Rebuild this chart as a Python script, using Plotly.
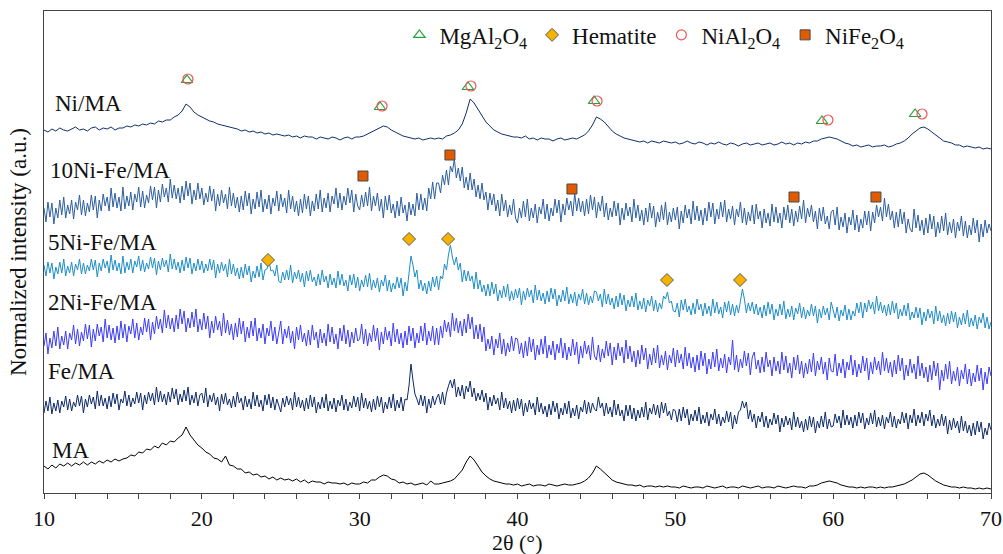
import plotly.graph_objects as go

# ---------------- data ----------------
TWO_THETA_MIN = 10.0
TWO_THETA_MAX = 70.0

# stacked, normalized intensity (a.u.); evenly sampled from 10 to 70 deg
# Ni/MA and MA every 0.25 deg, the noisy Fe-containing samples every 0.125 deg
ni_ma = [
    363,361,364,362,365,363,362,364,366,363,364,362,365,366,363,365,364,366,363,365,
    365,367,366,368,367,369,368,370,369,372,371,373,373,376,378,382,389,386,381,378,
    376,374,372,371,369,368,367,366,365,364,362,363,361,362,360,361,359,360,358,359,
    358,357,358,356,357,355,357,356,356,354,356,355,354,356,355,353,355,356,354,356,
    356,357,359,361,363,365,367,366,363,361,359,357,356,355,354,355,353,354,355,354,
    355,354,357,358,360,363,369,380,394,390,384,377,371,367,363,361,359,358,357,356,
    356,355,357,354,355,353,355,354,354,352,354,355,353,354,355,354,356,358,362,368,
    376,374,371,366,362,359,357,355,354,353,352,351,352,350,352,351,350,352,351,350,
    351,349,350,352,350,349,351,350,348,350,349,351,349,348,350,349,347,349,350,348,
    349,350,348,349,350,348,349,351,349,350,348,350,349,351,350,352,352,354,355,356,
    355,354,352,350,349,347,348,346,347,348,346,347,347,348,346,347,349,350,352,355,
    359,362,365,366,364,361,358,355,352,351,350,348,348,346,347,346,345,346,344,345,
    344,
]

ni10_fe_ma = [
    285,271,291,276,290,269,285,275,293,278,296,275,288,279,293,274,291,283,298,278,
    293,277,290,281,298,283,297,275,293,282,299,287,296,282,305,286,300,285,296,282,
    306,284,297,287,301,283,299,291,306,286,302,285,298,290,307,293,306,285,303,291,
    309,296,305,291,314,295,308,294,305,290,307,293,312,297,310,289,303,293,310,294,
    305,288,300,291,307,292,304,282,299,287,303,290,299,284,306,287,300,285,296,281,
    297,283,302,287,300,279,294,284,301,286,303,281,294,284,298,279,295,287,302,282,
    299,286,295,280,303,284,297,281,292,277,294,280,299,284,297,277,292,282,299,284,
    303,281,295,285,300,281,297,289,305,285,300,283,297,288,305,290,303,281,299,287,
    283,298,286,301,287,306,282,297,287,300,282,294,275,297,283,298,280,289,275,292,
    277,296,280,288,272,291,278,289,277,300,283,299,283,295,282,305,294,311,294,310,
    310,300,318,308,323,308,327,321,334,315,325,312,326,305,316,303,320,303,314,296,
    308,294,310,293,301,283,300,288,299,282,293,277,299,282,293,276,288,278,294,275,
    270,285,275,292,276,294,272,285,275,289,270,286,279,294,274,289,272,285,277,294,
    280,293,271,289,278,295,283,292,277,300,282,295,281,292,277,294,279,298,283,296,
    275,291,282,297,276,290,273,285,276,292,277,290,268,285,273,290,277,286,271,294,
    275,288,272,283,268,285,271,290,275,287,266,281,271,288,273,291,268,281,271,285,
    273,286,264,282,270,288,275,284,269,292,273,287,272,283,268,285,272,291,276,290,
    269,284,274,291,276,293,271,284,274,287,268,284,276,291,270,285,268,281,272,288,
    269,289,274,282,265,284,270,280,267,289,271,286,270,280,265,286,273,288,270,284,
    267,282,271,287,274,293,270,285,276,288,271,282,264,285,272,286,269,277,264,281,
    283,268,286,263,276,266,280,260,276,268,283,263,278,261,274,265,282,268,282,262,
    281,270,288,276,286,272,295,276,289,273,282,265,281,266,284,269,281,260,274,264,
    261,284,265,278,262,273,258,275,260,279,264,277,256,271,260,277,262,280,258,271,
    260,274,255,271,262,277,257,272,255,268,258,275,260,273,251,269,256,273,260,269,
    262,
]

ni5_fe_ma = [
    228,217,231,220,230,214,226,219,231,220,234,217,227,220,231,217,229,223,234,219,
    230,219,228,222,234,223,233,216,230,222,234,225,232,220,238,223,233,222,230,219,
    237,220,231,223,234,220,232,226,237,222,233,221,230,224,236,225,235,218,232,223,
    235,226,233,221,239,224,234,223,231,220,233,222,236,225,235,219,230,222,234,223,
    232,220,229,222,234,223,233,215,229,220,231,222,229,216,234,219,229,217,225,214,
    226,215,229,218,227,211,222,215,227,216,230,213,223,224,233,222,223,217,228,212,
    210,221,213,223,213,228,210,221,214,223,211,220,206,222,212,223,211,216,207,219,
    208,223,211,217,205,219,208,215,205,222,208,219,207,213,202,218,208,219,205,216,
    202,213,206,218,206,220,203,213,205,215,201,213,207,218,202,213,201,210,204,216,
    205,215,197,211,202,222,237,228,216,223,204,213,202,210,199,212,202,216,206,217,
    203,217,214,229,223,238,248,236,228,236,223,230,211,223,212,222,212,217,204,221,
    204,213,201,208,197,209,197,211,199,209,192,203,195,207,196,209,192,202,193,204,
    195,205,188,202,193,205,196,203,190,208,193,203,192,200,189,202,191,205,194,204,
    187,198,191,203,192,206,189,199,190,201,187,199,193,204,189,200,188,197,190,202,
    201,192,199,186,204,189,199,188,195,184,197,186,200,188,198,182,193,186,197,186,
    200,183,192,184,195,181,193,187,197,182,193,181,190,184,197,194,201,190,192,182,
    181,190,176,193,183,194,181,187,178,190,179,194,183,189,177,190,179,187,177,194,
    180,191,179,186,175,191,181,192,178,189,177,188,180,192,204,194,180,190,182,191,
    179,189,178,186,175,188,177,191,179,189,173,184,177,189,178,192,174,184,176,187,
    173,185,179,190,175,186,174,183,177,189,177,187,170,184,175,187,178,185,173,191,
    183,175,186,172,183,177,188,173,184,173,182,177,190,180,191,175,190,181,193,184,
    191,179,197,182,191,180,188,177,189,178,192,180,190,174,184,177,188,177,190,173,
    181,175,186,175,185,168,181,172,184,175,182,169,187,172,182,170,178,167,180,169,
    182,171,181,165,176,168,180,169,183,166,175,167,178,164,176,170,180,165,176,164,
    171,
]

ni2_fe_ma = [
    147,160,139,155,145,162,147,166,144,157,148,162,144,160,153,168,149,164,147,161,
    152,169,154,168,146,164,152,169,157,166,151,174,155,168,153,165,150,167,153,172,
    155,169,151,167,159,174,155,170,153,166,158,175,161,174,153,171,159,177,164,174,
    160,183,165,178,164,175,161,178,164,184,169,182,161,175,165,181,166,184,161,174,
    163,180,164,177,155,172,160,177,163,172,157,180,160,173,158,169,153,170,156,175,
    159,172,151,166,155,172,157,175,152,165,155,169,149,165,157,172,152,166,149,162,
    172,149,164,155,167,150,162,144,166,153,168,151,160,147,163,148,168,153,161,145,
    164,150,160,147,169,151,166,149,159,144,165,152,168,149,163,146,161,150,165,152,
    154,169,149,164,147,160,151,168,152,165,143,161,149,166,153,162,147,170,151,164,
    149,160,145,162,148,167,152,165,145,160,150,167,152,170,148,162,152,167,148,165,
    148,167,155,173,161,171,156,180,162,175,160,172,157,174,160,179,164,176,154,168,
    154,169,151,166,142,154,144,157,138,154,145,160,139,154,137,150,141,157,142,155,
    154,139,150,135,152,137,156,141,154,133,148,138,154,139,157,135,148,138,152,133,
    149,140,155,135,150,133,146,137,154,138,151,129,147,135,152,139,148,133,156,137,
    133,148,131,144,135,152,137,150,128,146,133,150,137,146,130,153,134,147,131,142,
    126,143,129,148,133,145,124,139,128,145,130,148,125,138,128,142,123,138,130,145,
    126,143,130,139,124,146,127,140,125,136,121,138,123,142,127,140,119,134,124,141,
    126,144,122,135,125,139,120,136,128,153,123,138,121,134,125,142,127,140,118,136,
    141,124,133,120,136,121,141,126,133,117,136,122,132,119,141,123,137,120,130,115,
    136,123,138,119,132,115,130,119,134,121,140,117,132,123,136,119,131,113,135,122,
    121,139,117,130,120,134,115,131,123,138,118,133,116,129,120,137,122,135,113,131,
    119,136,123,132,118,141,122,135,120,131,116,133,119,138,122,135,113,128,117,134,
    120,129,114,137,117,130,115,126,111,128,113,132,117,130,103,123,112,129,114,132,
    109,122,112,126,107,123,114,129,109,124,107,120,111,128,112,125,103,121,109,126,
    117,
]

fe_ma = [
    80,92,82,96,79,90,82,93,80,92,86,97,83,94,82,91,86,98,87,97,
    80,94,86,98,89,96,84,102,87,98,87,95,84,97,86,100,89,99,83,94,
    90,102,87,98,86,95,89,101,90,100,83,98,89,101,92,100,88,106,91,102,
    91,99,88,101,91,105,94,104,88,99,91,103,92,106,88,98,90,101,87,98,
    100,90,105,86,98,91,100,88,96,82,99,89,100,88,94,85,97,86,101,90,
    95,83,97,86,94,84,101,87,98,86,93,82,98,88,99,85,96,83,94,86,
    81,95,86,97,88,95,83,101,86,96,85,93,82,95,84,98,86,96,80,91,
    84,96,85,99,82,92,84,95,81,93,87,98,83,94,82,91,85,97,86,96,
    82,100,85,95,84,92,81,94,83,97,86,96,80,91,84,96,85,99,82,93,
    85,96,82,94,93,107,129,113,99,94,88,98,87,97,80,94,85,97,88,95,
    99,89,101,88,100,107,113,105,114,96,106,97,108,94,107,101,112,96,105,92,
    100,93,103,91,100,83,96,87,98,89,95,83,101,85,95,84,92,80,93,82,
    95,84,94,77,90,81,93,84,90,78,96,81,90,79,87,76,89,78,92,81,
    90,74,85,78,90,79,92,75,85,77,88,74,86,81,93,79,91,80,90,84,
    82,96,85,90,77,90,79,86,76,93,78,89,77,83,72,88,77,88,74,85,
    72,83,75,86,76,91,73,85,79,89,78,88,75,91,80,90,77,82,73,84,
    82,71,84,72,86,75,84,68,79,72,83,72,86,69,78,70,81,67,79,73,
    84,69,79,67,76,70,82,71,81,64,78,69,81,83,92,85,91,74,83,71,
    79,65,77,71,81,66,77,65,74,68,80,69,78,61,75,66,77,68,75,63,
    81,66,76,65,72,61,74,63,77,66,76,60,72,65,77,66,81,64,74,66,
    67,79,70,77,65,83,68,78,68,76,65,78,67,81,70,80,64,75,68,80,
    69,83,66,76,67,78,64,76,70,81,66,77,65,74,69,81,70,80,64,78,
    70,84,67,78,70,81,67,79,72,83,67,78,65,74,67,79,67,77,59,73,
    63,75,65,72,60,77,62,72,60,68,57,70,58,72,61,71,54,65,58,70,
    63,
]

ma = [
    27,24,28,25,29,27,30,27,30,28,31,28,31,29,32,30,33,31,34,32,
    34,35,38,37,41,40,44,43,47,45,50,48,52,51,55,58,66,58,53,48,
    45,41,39,35,34,31,37,28,27,24,24,20,21,18,19,16,17,14,16,13,
    15,13,14,12,14,11,13,10,12,11,11,9,11,10,10,9,10,8,10,9,
    9,11,10,13,13,16,18,17,14,13,10,11,9,10,8,9,10,8,12,9,
    9,10,11,12,14,18,23,31,37,33,27,21,17,14,12,11,10,9,9,8,
    9,7,8,9,7,8,8,7,9,8,7,8,9,8,8,9,10,12,15,20,
    27,24,20,16,13,11,10,9,8,8,7,8,6,7,7,6,7,6,7,6,
    6,5,7,6,5,6,6,5,7,6,5,6,7,5,6,6,5,7,6,5,
    6,7,5,6,6,5,7,6,5,6,7,6,6,5,7,7,8,10,11,12,
    11,10,8,7,6,6,5,6,5,6,6,5,6,5,6,6,7,8,9,11,
    13,16,19,20,18,15,12,10,8,7,6,6,5,6,5,5,4,5,4,5,
    4,
]

sample_names = ["Ni/MA", "10Ni-Fe/MA", "5Ni-Fe/MA", "2Ni-Fe/MA", "Fe/MA", "MA"]
sample_series = [ni_ma, ni10_fe_ma, ni5_fe_ma, ni2_fe_ma, fe_ma, ma]
sample_colors = ["#102e6c", "#2c5e9e", "#1f8dc6", "#3c3cf6", "#0d2a68", "#000000"]
label_y = [390, 323, 251, 191, 122, 43]

# phase reflections (2theta, marker height)
mgal2o4_x = [19.06, 31.29, 36.86, 44.85, 59.29, 65.19]
mgal2o4_y = [413, 386, 406, 392, 372, 379]
hematite_x = [24.19, 33.13, 35.60, 49.47, 54.10]
hematite_y = [233, 254, 254, 213, 213]
nial2o4_x = [19.12, 31.42, 37.05, 45.04, 59.67, 65.63]
nial2o4_y = [414, 387, 407, 392, 373, 379]
nife2o4_x = [30.21, 35.72, 43.45, 57.52, 62.71]
nife2o4_y = [317, 338, 304, 296, 296]

FONT = "Liberation Serif"
FS = 23

fig = go.Figure()

for name, vals, col in zip(sample_names, sample_series, sample_colors):
    n = len(vals)
    xs = [TWO_THETA_MIN + i * (TWO_THETA_MAX - TWO_THETA_MIN) / (n - 1) for i in range(n)]
    fig.add_trace(go.Scatter(x=xs, y=vals, mode="lines", name=name,
                             line=dict(color=col, width=1), showlegend=False))

fig.add_trace(go.Scatter(x=mgal2o4_x, y=mgal2o4_y, mode="markers",
                         name="MgAl<sub>2</sub>O<sub>4</sub>",
                         marker=dict(symbol="triangle-up-open", size=10, color="#22a23a",
                                     line=dict(width=1.2))))
fig.add_trace(go.Scatter(x=hematite_x, y=hematite_y, mode="markers", name="Hematite",
                         marker=dict(symbol="diamond", size=10, color="#f5b300",
                                     line=dict(color="#5a5a5a", width=1))))
fig.add_trace(go.Scatter(x=nial2o4_x, y=nial2o4_y, mode="markers",
                         name="NiAl<sub>2</sub>O<sub>4</sub>",
                         marker=dict(symbol="circle-open", size=10, color="#f05454",
                                     line=dict(width=1.2))))
fig.add_trace(go.Scatter(x=nife2o4_x, y=nife2o4_y, mode="markers",
                         name="NiFe<sub>2</sub>O<sub>4</sub>",
                         marker=dict(symbol="square", size=10, color="#e05a00",
                                     line=dict(color="#4a4a4a", width=1))))

label_x = [10.57, 10.25, 10.12, 10.12, 10.12, 10.38]
for name, lx, ly in zip(sample_names, label_x, label_y):
    fig.add_annotation(x=lx, y=ly, xref="x", yref="y", text=name, showarrow=False,
                       xanchor="left", yanchor="middle",
                       font=dict(family=FONT, size=FS, color="#111111"))

# axis titles
fig.add_annotation(x=0.5, y=-0.1037, xref="paper", yref="paper", text="2θ (°)",
                   showarrow=False, xanchor="center", yanchor="middle",
                   font=dict(family=FONT, size=22, color="#111111"))
fig.add_annotation(x=-0.0275, y=0.5, xref="paper", yref="paper",
                   text="Normalized intensity (a.u.)", textangle=-90,
                   showarrow=False, xanchor="center", yanchor="middle",
                   font=dict(family=FONT, size=FS, color="#111111"))

fig.update_layout(
    width=1003, height=554,
    margin=dict(l=44, r=12, t=11, b=61, autoexpand=False),
    paper_bgcolor="white", plot_bgcolor="white",
    font=dict(family=FONT, size=FS, color="#111111"),
    showlegend=True,
    legend=dict(orientation="h", x=0.3753, y=0.995, xanchor="left", yanchor="top",
                bgcolor="rgba(0,0,0,0)", font=dict(family=FONT, size=FS, color="#111111"),
                itemwidth=30),
    xaxis=dict(range=[TWO_THETA_MIN, TWO_THETA_MAX], tick0=10, dtick=10,
               ticks="outside", ticklen=5, tickcolor="#444444", tickwidth=1,
               minor=dict(dtick=2, tick0=10, ticks="outside", ticklen=5,
                          tickcolor="#444444", tickwidth=1, showgrid=False),
               showline=True, linecolor="#444444", linewidth=1.3, mirror=True,
               showgrid=False, zeroline=False, automargin=False,
               ticklabelstandoff=0,
               tickfont=dict(family=FONT, size=22, color="#111111")),
    yaxis=dict(range=[0, 482], showticklabels=False, ticks="",
               showline=True, linecolor="#444444", linewidth=1.3, mirror=True,
               showgrid=False, zeroline=False, automargin=False),
)

fig.write_html("out.html")
